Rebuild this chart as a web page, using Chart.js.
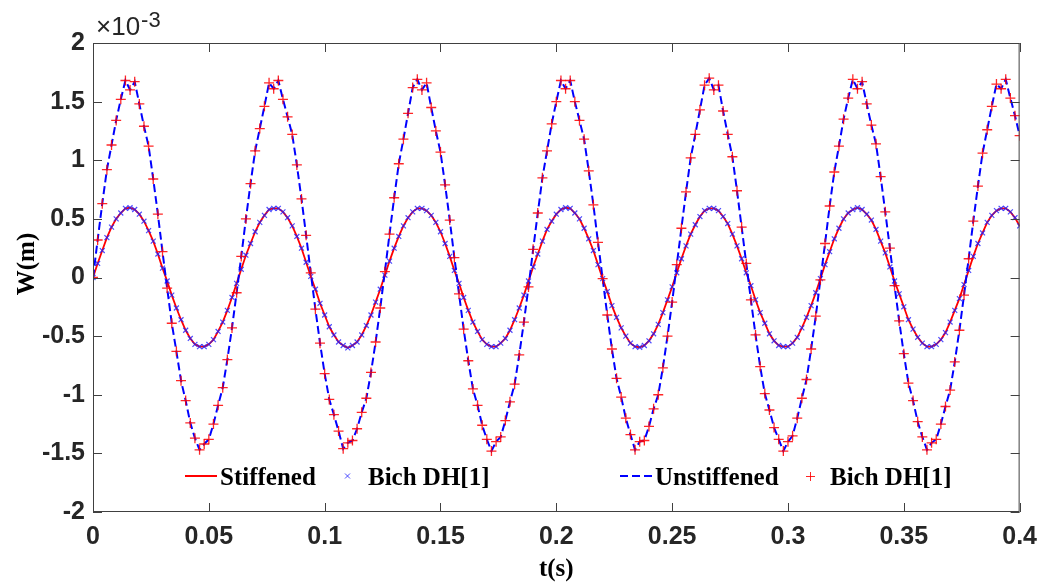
<!DOCTYPE html>
<html>
<head>
  <meta charset="utf-8" />
  <title>W(m) - t(s)</title>
  <style>
    body { margin: 0; background: #fff; }
  </style>
</head>
<body>
  <canvas id="stage" width="1047" height="583"></canvas>

  <script src="https://cdn.jsdelivr.net/npm/chart.js@4.4.0/dist/chart.umd.min.js"></script>
  <script>
    // time (s)
    const t = [
      0,0.002,0.004,0.006,0.008,0.01,0.012,0.014,0.016,0.018,
      0.02,0.022,0.024,0.026,0.028,0.03,0.032,0.034,0.036,0.038,
      0.04,0.042,0.044,0.046,0.048,0.05,0.052,0.054,0.056,0.058,
      0.06,0.062,0.064,0.066,0.068,0.07,0.072,0.074,0.076,0.078,
      0.08,0.082,0.084,0.086,0.088,0.09,0.092,0.094,0.096,0.098,
      0.1,0.102,0.104,0.106,0.108,0.11,0.112,0.114,0.116,0.118,
      0.12,0.122,0.124,0.126,0.128,0.13,0.132,0.134,0.136,0.138,
      0.14,0.142,0.144,0.146,0.148,0.15,0.152,0.154,0.156,0.158,
      0.16,0.162,0.164,0.166,0.168,0.17,0.172,0.174,0.176,0.178,
      0.18,0.182,0.184,0.186,0.188,0.19,0.192,0.194,0.196,0.198,
      0.2,0.202,0.204,0.206,0.208,0.21,0.212,0.214,0.216,0.218,
      0.22,0.222,0.224,0.226,0.228,0.23,0.232,0.234,0.236,0.238,
      0.24,0.242,0.244,0.246,0.248,0.25,0.252,0.254,0.256,0.258,
      0.26,0.262,0.264,0.266,0.268,0.27,0.272,0.274,0.276,0.278,
      0.28,0.282,0.284,0.286,0.288,0.29,0.292,0.294,0.296,0.298,
      0.3,0.302,0.304,0.306,0.308,0.31,0.312,0.314,0.316,0.318,
      0.32,0.322,0.324,0.326,0.328,0.33,0.332,0.334,0.336,0.338,
      0.34,0.342,0.344,0.346,0.348,0.35,0.352,0.354,0.356,0.358,
      0.36,0.362,0.364,0.366,0.368,0.37,0.372,0.374,0.376,0.378,
      0.38,0.382,0.384,0.386,0.388,0.39,0.392,0.394,0.396,0.398,
      0.4
    ];

    // W (x 1e-3 m), stiffened plate
    const wStiffened = [
      0,0.12,0.23,0.34,0.43,0.50,0.55,0.59,0.595,0.58,0.54,0.48,0.40,0.31,0.20,0.08,-0.03,-0.15,-0.26,-0.36,
      -0.45,-0.52,-0.57,-0.59,-0.59,-0.57,-0.53,-0.46,-0.38,-0.28,-0.17,-0.05,
      0.07,0.19,0.29,0.39,0.47,0.53,0.58,0.59,0.59,0.56,0.51,0.44,0.35,0.25,0.13,0.01,-0.10,-0.22,-0.32,-0.42,
      -0.49,-0.55,-0.58,-0.60,-0.58,-0.55,-0.49,-0.41,-0.32,-0.21,-0.10,
      0.02,0.14,0.25,0.35,0.44,0.51,0.56,0.59,0.59,0.57,0.53,0.47,0.39,0.29,0.18,0.06,-0.05,-0.17,-0.28,-0.38,
      -0.46,-0.53,-0.57,-0.59,-0.59,-0.56,-0.52,-0.45,-0.36,-0.26,-0.15,-0.03,
      0.09,0.20,0.31,0.41,0.48,0.54,0.58,0.595,0.59,0.55,0.50,0.42,0.33,0.23,0.11,-0.01,-0.12,-0.24,-0.34,-0.43,
      -0.50,-0.56,-0.59,-0.595,-0.58,-0.54,-0.48,-0.40,-0.30,-0.19,-0.08,
      0.04,0.16,0.27,0.37,0.45,0.52,0.57,0.59,0.59,0.57,0.52,0.46,0.37,0.27,0.16,0.04,-0.07,-0.19,-0.30,-0.39,
      -0.48,-0.54,-0.58,-0.59,-0.59,-0.56,-0.51,-0.43,-0.34,-0.24,-0.13,-0.01,
      0.11,0.22,0.33,0.42,0.50,0.55,0.58,0.595,0.58,0.54,0.49,0.41,0.31,0.21,0.09,-0.03,-0.14,-0.25,-0.36,-0.44,
      -0.51,-0.56,-0.59,-0.59,-0.57,-0.53,-0.47,-0.38,-0.28,-0.18,-0.06,
      0.06,0.18,0.29,0.38,0.47,0.53,0.57,0.59,0.59,0.56,0.51,0.44
    ];

    // W (x 1e-3 m), unstiffened plate
    const wUnstiffened = [
      0,0.32,0.63,0.92,1.13,1.34,1.52,1.68,1.60,1.67,1.48,1.29,1.12,0.84,0.54,0.22,-0.09,-0.39,-0.63,-0.88,
      -1.05,-1.24,-1.37,-1.47,-1.42,-1.38,-1.25,-1.09,-0.94,-0.70,-0.43,-0.13,
      0.18,0.50,0.80,1.08,1.27,1.46,1.66,1.61,1.68,1.52,1.37,1.22,0.96,0.67,0.36,0.04,-0.27,-0.56,-0.82,-1.04,
      -1.17,-1.31,-1.46,-1.41,-1.39,-1.29,-1.15,-1.03,-0.81,-0.55,-0.26,
      0.05,0.37,0.68,0.97,1.18,1.40,1.62,1.69,1.60,1.66,1.45,1.25,1.07,0.79,0.49,0.17,-0.14,-0.44,-0.71,-0.95,
      -1.09,-1.26,-1.38,-1.48,-1.40,-1.36,-1.22,-1.06,-0.91,-0.66,-0.38,-0.08,
      0.24,0.55,0.85,1.08,1.31,1.50,1.68,1.61,1.68,1.50,1.34,1.18,0.91,0.62,0.30,-0.01,-0.32,-0.61,-0.86,-1.02,
      -1.20,-1.34,-1.47,-1.40,-1.39,-1.27,-1.12,-1.00,-0.77,-0.50,-0.21,
      0.11,0.42,0.73,1.02,1.22,1.43,1.64,1.70,1.60,1.64,1.42,1.22,1.03,0.74,0.43,0.12,-0.19,-0.49,-0.76,-0.99,
      -1.13,-1.28,-1.38,-1.48,-1.40,-1.35,-1.20,-1.03,-0.87,-0.61,-0.33,-0.02,
      0.29,0.61,0.90,1.12,1.35,1.53,1.69,1.61,1.67,1.48,1.30,1.14,0.86,0.56,0.25,-0.07,-0.37,-0.65,-0.90,-1.05,
      -1.23,-1.36,-1.47,-1.41,-1.38,-1.25,-1.10,-0.96,-0.72,-0.45,-0.15,
      0.16,0.48,0.78,1.06,1.26,1.46,1.65,1.61,1.69,1.53,1.38,1.21
    ];

    // Bich DH[1] results (same points as the curves)
    const bichStiffened = wStiffened;
    const bichUnstiffened = wUnstiffened;

    const xTicks = [0, 0.05, 0.1, 0.15, 0.2, 0.25, 0.3, 0.35, 0.4];
    const xTickLabels = ['0', '0.05', '0.1', '0.15', '0.2', '0.25', '0.3', '0.35', '0.4'];
    const yTicks = [-2, -1.5, -1, -0.5, 0, 0.5, 1, 1.5, 2];
    const yTickLabels = ['-2', '-1.5', '-1', '-0.5', '0', '0.5', '1', '1.5', '2'];

    const seriesNames = ['Stiffened', 'Bich DH[1]', 'Unstiffened', 'Bich DH[1]'];

    const pts = arr => t.map((x, i) => ({ x: x, y: arr[i] }));

    const tickFont = { family: 'Liberation Sans, Arial, sans-serif', size: 25, weight: 'bold' };
    const titleFont = { family: 'Liberation Serif, Times New Roman, serif', size: 25, weight: 'bold' };

    // box, inward ticks, exponent, y title and legend
    const frame = {
      id: 'frame',
      afterDatasetsDraw(chart) {
        const ctx = chart.ctx;
        const a = chart.chartArea;
        const xs = chart.scales.x, ys = chart.scales.y;
        ctx.save();
        ctx.strokeStyle = '#404040';
        ctx.lineWidth = 1;
        ctx.strokeRect(a.left + 0.5, a.top + 0.5, a.right - a.left - 1, a.bottom - a.top - 1);
        ctx.beginPath();
        xTicks.forEach(v => {
          const px = Math.round(xs.getPixelForValue(v)) + 0.5;
          ctx.moveTo(px, a.bottom); ctx.lineTo(px, a.bottom - 9);
          ctx.moveTo(px, a.top); ctx.lineTo(px, a.top + 9);
        });
        yTicks.forEach(v => {
          const py = Math.round(ys.getPixelForValue(v)) + 0.5;
          ctx.moveTo(a.left, py); ctx.lineTo(a.left + 9, py);
          ctx.moveTo(a.right, py); ctx.lineTo(a.right - 9, py);
        });
        ctx.stroke();

        // x10^-3
        ctx.fillStyle = '#262626';
        ctx.textBaseline = 'alphabetic';
        ctx.font = '26px "Liberation Sans", Arial, sans-serif';
        ctx.fillText('\u00d710', a.left + 3, 35);
        const w = ctx.measureText('\u00d710').width;
        ctx.font = '22px "Liberation Sans", Arial, sans-serif';
        ctx.fillText('-3', a.left + 3 + w + 1, 27);

        // y axis title
        ctx.save();
        ctx.translate(28, 264);
        ctx.rotate(-Math.PI / 2);
        ctx.font = 'bold 25px "Liberation Serif", "Times New Roman", serif';
        ctx.fillStyle = '#000';
        ctx.textAlign = 'center';
        ctx.textBaseline = 'middle';
        ctx.fillText('W(m)', 0, 0);
        ctx.restore();

        // legend
        const ds = chart.data.datasets;
        const ly = 476;
        ctx.font = 'bold 25px "Liberation Serif", "Times New Roman", serif';
        ctx.fillStyle = '#000';
        ctx.textBaseline = 'alphabetic';

        ctx.strokeStyle = ds[0].borderColor;
        ctx.lineWidth = 2;
        ctx.beginPath(); ctx.moveTo(185, ly); ctx.lineTo(217, ly); ctx.stroke();
        ctx.fillText(seriesNames[0], 220, ly + 9);

        ctx.strokeStyle = ds[1].borderColor;
        ctx.lineWidth = 1;
        ctx.beginPath();
        ctx.moveTo(345, ly - 2.5); ctx.lineTo(350, ly + 2.5);
        ctx.moveTo(350, ly - 2.5); ctx.lineTo(345, ly + 2.5);
        ctx.stroke();
        ctx.fillText(seriesNames[1], 368, ly + 9);

        ctx.strokeStyle = ds[2].borderColor;
        ctx.lineWidth = 2;
        ctx.setLineDash(ds[2].borderDash);
        ctx.beginPath(); ctx.moveTo(620, ly); ctx.lineTo(652, ly); ctx.stroke();
        ctx.setLineDash([]);
        ctx.fillText(seriesNames[2], 655, ly + 9);

        ctx.strokeStyle = ds[3].borderColor;
        ctx.lineWidth = 1;
        ctx.beginPath();
        ctx.moveTo(806, ly + 0.5); ctx.lineTo(815, ly + 0.5);
        ctx.moveTo(810.5, ly - 4); ctx.lineTo(810.5, ly + 5);
        ctx.stroke();
        ctx.fillText(seriesNames[3], 830, ly + 9);
        ctx.restore();
      }
    };

    new Chart(document.getElementById('stage'), {
      type: 'line',
      data: {
        datasets: [{
          label: seriesNames[0],
          data: pts(wStiffened),
          borderColor: '#ff0000',
          borderWidth: 1.8,
          pointRadius: 0,
          order: 4
        }, {
          label: seriesNames[1],
          data: pts(bichStiffened),
          showLine: false,
          pointStyle: 'crossRot',
          pointRadius: 3.5,
          borderColor: 'rgba(30, 30, 255, 0.8)',
          borderWidth: 1.2,
          order: 3
        }, {
          label: seriesNames[2],
          data: pts(wUnstiffened),
          borderColor: '#0000ff',
          borderWidth: 2,
          borderDash: [8, 4],
          pointRadius: 0,
          order: 2
        }, {
          label: seriesNames[3],
          data: pts(bichUnstiffened),
          showLine: false,
          pointStyle: 'cross',
          pointRadius: 5,
          borderColor: 'rgba(255, 0, 0, 0.85)',
          borderWidth: 1.3,
          order: 1
        }]
      },
      options: {
        responsive: false,
        animation: false,
        layout: { padding: { left: 0, right: 24, top: 43, bottom: 0 } },
        plugins: {
          legend: { display: false },
          tooltip: { enabled: false }
        },
        scales: {
          x: {
            type: 'linear',
            min: 0,
            max: 0.4,
            grid: { display: false, drawTicks: false },
            border: { display: false },
            afterBuildTicks: s => { s.ticks = xTicks.map(v => ({ value: v })); },
            afterFit: s => { s.height = 71; },
            ticks: {
              font: tickFont,
              color: '#262626',
              padding: 10,
              maxRotation: 0,
              autoSkip: false,
              callback: (v, i) => xTickLabels[i]
            },
            title: {
              display: true,
              text: 't(s)',
              font: Object.assign({ lineHeight: 1.04 }, titleFont),
              color: '#000',
              padding: 0
            }
          },
          y: {
            min: -2,
            max: 2,
            grid: { display: false, drawTicks: false },
            border: { display: false },
            afterBuildTicks: s => { s.ticks = yTicks.map(v => ({ value: v })); },
            afterFit: s => { s.width = 93; },
            ticks: {
              font: tickFont,
              color: '#262626',
              padding: 8,
              autoSkip: false,
              callback: (v, i) => yTickLabels[i]
            },
            title: { display: false }
          }
        }
      },
      plugins: [frame]
    });
  </script>
</body>
</html>
